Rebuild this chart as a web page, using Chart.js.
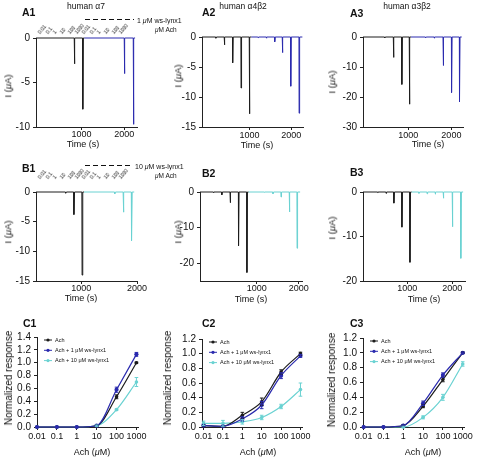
<!DOCTYPE html>
<html>
<head>
<meta charset="utf-8">
<script src="https://cdn.jsdelivr.net/npm/chart.js@4.4.1/dist/chart.umd.min.js"></script>
<style>
  body { margin: 0; background: #fff; }
  #fig { position: relative; width: 477px; height: 458px; overflow: hidden;
         font-family: 'Liberation Sans', Arial, sans-serif; color: #111; }
  #fig canvas { position: absolute; }
  .lbl { position: absolute; white-space: nowrap; line-height: 1; color: #111; will-change: transform; }
  .dash { position: absolute; height: 1px;
          background: repeating-linear-gradient(to right, #111 0 5px, transparent 5px 8px); }
</style>
</head>
<body>
<div id="fig"></div>
<script>
// ---- data: current traces (time s, peak current uA) ----
const a1Span = [-70, 1063, 2255];
const a1CtrlT = [829, 1026];
const a1CtrlI = [-2.9, -8.0];
const a1LynxT = [2002, 2214];
const a1LynxI = [-4.0, -9.7];

const a2Span = [-141, 1040, 2265];
const a2CtrlT = [190, 393, 592, 793, 993];
const a2CtrlI = [-0.2, -1.3, -4.3, -8.5, -12.8];
const a2LynxT = [1200, 1400, 1600, 1784, 1984, 2185];
const a2LynxI = [-0.1, -0.2, -0.8, -2.6, -8.2, -12.7];

const a3Span = [-53, 1062, 2240];
const a3CtrlT = [450, 653, 847, 1023];
const a3CtrlI = [-0.3, -6.8, -15.8, -22.4];
const a3LynxT = [1400, 1600, 1808, 2002, 2187];
const a3LynxI = [-0.2, -0.4, -9.5, -18.5, -21.6];

const b1Span = [190, 1050, 1950];
const b1CtrlT = [720, 867, 1014];
const b1CtrlI = [-0.2, -3.8, -14.0];
const b1LynxT = [1600, 1753, 1900];
const b1LynxI = [-0.3, -3.4, -8.2];

const b2Span = [-360, 800, 2035];
const b2CtrlT = [-40, 160, 360, 560, 760];
const b2CtrlI = [-0.2, -0.8, -3.0, -15.1, -22.6];
const b2LynxT = [1176, 1384, 1576, 1776, 1960];
const b2LynxI = [-0.1, -0.5, -1.4, -5.6, -15.8];

const b3Span = [22, 1098, 2240];
const b3CtrlT = [350, 530, 704, 882, 1060];
const b3CtrlI = [-0.1, -0.3, -2.5, -7.9, -15.8];
const b3LynxT = [1260, 1440, 1620, 1800, 2000, 2187];
const b3LynxI = [-0.3, -0.4, -0.5, -1.4, -7.8, -14.9];

const timeTicks = [1000, 2000];
const yTicksA1 = [0, -5, -10];
const yTicksA2 = [0, -5, -10, -15];
const yTicksA3 = [0, -10, -20, -30];
const yTicksB1 = [0, -5, -10, -15];
const yTicksB2 = [0, -10, -20];
const yTicksB3 = [0, -10, -20];

// ---- data: concentration-response (normalized) ----
const conc = [0.01, 0.1, 1, 10, 100, 1000];
const concLabels = ['0.01', '0.1', '1', '10', '100', '1000'];
const seriesNames = ['Ach', 'Ach + 1 \u03bcM ws-lynx1', 'Ach + 10 \u03bcM ws-lynx1'];

const c1Ach = [0, 0, 0, 0.02, 0.47, 1.0];
const c1AchErr = [0, 0, 0, 0.01, 0.03, 0.01];
const c1Lynx1 = [0, 0, 0, 0.02, 0.58, 1.13];
const c1Lynx1Err = [0, 0, 0, 0.01, 0.04, 0.03];
const c1Lynx10 = [0, 0, 0, 0.02, 0.27, 0.70];
const c1Lynx10Err = [0, 0, 0, 0.01, 0.01, 0.07];

const c2Ach = [0.02, 0.01, 0.16, 0.345, 0.75, 1.0];
const c2AchErr = [0.01, 0.01, 0.04, 0.05, 0.03, 0.02];
const c2Lynx1 = [0.02, 0.01, 0.11, 0.30, 0.70, 0.97];
const c2Lynx1Err = [0.01, 0.01, 0.03, 0.05, 0.04, 0.02];
const c2Lynx10 = [0.05, 0.05, 0.07, 0.13, 0.28, 0.51];
const c2Lynx10Err = [0.03, 0.04, 0.03, 0.03, 0.03, 0.09];

const c3Ach = [0, 0, 0.02, 0.28, 0.64, 1.0];
const c3AchErr = [0, 0, 0.01, 0.02, 0.03, 0.01];
const c3Lynx1 = [0, 0, 0.02, 0.32, 0.70, 1.0];
const c3Lynx1Err = [0, 0, 0.01, 0.03, 0.03, 0.01];
const c3Lynx10 = [0, 0, 0, 0.13, 0.40, 0.85];
const c3Lynx10Err = [0, 0, 0.01, 0.02, 0.04, 0.03];

const yTicksC14 = [0, 0.2, 0.4, 0.6, 0.8, 1.0, 1.2, 1.4];
const yTicksC12 = [0, 0.2, 0.4, 0.6, 0.8, 1.0, 1.2];

// ---- look ----
const BLACK = '#1c1c1c', BLUE = '#2a2aae', CYAN = '#6ad2d2', AX = '#222';
const FONT = "'Liberation Sans', Arial, sans-serif";
const YW = 34, PT = 8, PR = 14, XH = 16;
const fig = document.getElementById('fig');

function addCanvas(box) {
    const c = document.createElement('canvas');
    const l = Math.round(box.l), t = Math.round(box.t);
    const w = Math.round(box.r) - l + YW + PR;
    const h = Math.round(box.b) - t + PT + XH;
    c.width = w; c.height = h;
    c.style.left = (l - YW) + 'px';
    c.style.top = (t - PT) + 'px';
    c.style.width = w + 'px';
    c.style.height = h + 'px';
    fig.appendChild(c);
    return c;
}

function axis(o) {
    return {
        type: o.type || 'linear',
        position: o.pos,
        min: o.min, max: o.max,
        afterBuildTicks: s => { s.ticks = o.ticks.map(v => ({ value: v })); },
        afterFit: s => { if (o.pos === 'left') s.width = YW; else s.height = XH; },
        ticks: {
            autoSkip: false, maxRotation: 0, minRotation: 0,
            padding: o.pad, color: '#111',
            font: { family: FONT, size: o.size, lineHeight: 1 },
            callback: (v, i) => o.labels[i]
        },
        grid: { display: true, drawOnChartArea: false, drawTicks: true, tickLength: 3, color: AX, lineWidth: 1 },
        border: { display: true, color: AX, width: 1 }
    };
}

function baseOptions(scales) {
    return {
        responsive: false, animation: false, events: [], devicePixelRatio: 1,
        layout: { padding: { top: PT, right: PR, left: 0, bottom: 0 } },
        plugins: { legend: { display: false }, tooltip: { enabled: false } },
        scales: scales
    };
}

// one sweep of the recording: baseline with inward current spikes
function sweep(t0, t1, times, peaks) {
    const pts = [{ x: t0, y: 0 }];
    times.forEach((t, i) => {
        pts.push({ x: t - 2, y: 0 }, { x: t + 2, y: peaks[i] }, { x: t + 14, y: 0 });
    });
    pts.push({ x: t1, y: 0 });
    return pts;
}

function traceChart(box, xr, yMin, yTicks, span, ctrlT, ctrlI, lynxT, lynxI, lynxColor, xPad) {
    const c = addCanvas(box);
    new Chart(c, {
        type: 'line',
        data: {
            datasets: [
                { data: sweep(span[0], span[1], ctrlT, ctrlI), borderColor: BLACK },
                { data: sweep(span[1], span[2], lynxT, lynxI), borderColor: lynxColor }
            ].map(d => Object.assign(d, { borderWidth: 1, pointRadius: 0, tension: 0, clip: false }))
        },
        options: baseOptions({
            x: axis({ pos: 'bottom', min: xr[0], max: xr[1], ticks: timeTicks, labels: timeTicks.map(String), size: 9, pad: xPad }),
            y: axis({ pos: 'left', min: yMin, max: 0, ticks: yTicks, labels: yTicks.map(String), size: 10, pad: 3 })
        })
    });
}

const errorBars = {
    id: 'errorBars',
    afterDatasetsDraw(chart) {
        const { ctx, scales: { x, y } } = chart;
        ctx.save();
        chart.data.datasets.forEach(ds => {
            ctx.strokeStyle = ds.borderColor;
            ctx.lineWidth = 1;
            ds.data.forEach((p, i) => {
                const e = ds.errs[i];
                if (!e) return;
                const px = x.getPixelForValue(p.x);
                const y1 = y.getPixelForValue(p.y + e), y2 = y.getPixelForValue(p.y - e);
                ctx.beginPath();
                ctx.moveTo(px, y1); ctx.lineTo(px, y2);
                ctx.moveTo(px - 1.8, y1); ctx.lineTo(px + 1.8, y1);
                ctx.moveTo(px - 1.8, y2); ctx.lineTo(px + 1.8, y2);
                ctx.stroke();
            });
        });
        ctx.restore();
    }
};

const miniLegend = {
    id: 'miniLegend',
    afterDraw(chart) {
        const { ctx, chartArea: a } = chart;
        ctx.save();
        ctx.font = '5.5px ' + FONT;
        ctx.textBaseline = 'middle';
        chart.data.datasets.forEach((ds, i) => {
            const x = a.left + 7, y = a.top + 3 + i * 10.3;
            ctx.strokeStyle = ds.borderColor; ctx.lineWidth = 1;
            ctx.beginPath(); ctx.moveTo(x, y); ctx.lineTo(x + 8, y); ctx.stroke();
            ctx.fillStyle = ds.borderColor;
            ctx.beginPath(); ctx.arc(x + 4, y, 1.6, 0, Math.PI * 2); ctx.fill();
            ctx.fillStyle = '#111';
            ctx.fillText(ds.label, x + 11, y);
        });
        ctx.restore();
    }
};

function doseChart(box, xr, yTicks, yLabels, rows) {
    const c = addCanvas(box);
    const colors = [BLACK, BLUE, CYAN];
    new Chart(c, {
        type: 'line',
        data: {
            datasets: rows.map((r, k) => ({
                label: seriesNames[k],
                data: conc.map((v, i) => ({ x: v, y: r[0][i] })),
                errs: r[1],
                borderColor: colors[k], backgroundColor: colors[k],
                pointBackgroundColor: colors[k], pointBorderWidth: 0,
                pointRadius: k === 1 ? 2.1 : 1.8,
                borderWidth: 1.2, cubicInterpolationMode: 'monotone', clip: false,
                order: k === 2 ? 3 : (k === 0 ? 2 : 1)
            }))
        },
        options: baseOptions({
            x: axis({ type: 'logarithmic', pos: 'bottom', min: xr[0], max: xr[1], ticks: conc, labels: concLabels, size: 9, pad: 2 }),
            y: axis({ pos: 'left', min: 0, max: yTicks[yTicks.length - 1], ticks: yTicks, labels: yLabels, size: 10, pad: 3 })
        }),
        plugins: [errorBars, miniLegend]
    });
}

// ---- panels ----
traceChart({ l: 36, t: 37.5, r: 137, b: 126.7 }, [-70, 2300], -10, yTicksA1, a1Span, a1CtrlT, a1CtrlI, a1LynxT, a1LynxI, BLUE, 0);
traceChart({ l: 202, t: 37, r: 303, b: 126.5 }, [-141, 2280], -15, yTicksA2, a2Span, a2CtrlT, a2CtrlI, a2LynxT, a2LynxI, BLUE, 1);
traceChart({ l: 363, t: 37, r: 463, b: 126.7 }, [-53, 2270], -30, yTicksA3, a3Span, a3CtrlT, a3CtrlI, a3LynxT, a3LynxI, BLUE, 1);

traceChart({ l: 36, t: 192, r: 137, b: 281 }, [190, 2000], -15, yTicksB1, b1Span, b1CtrlT, b1CtrlI, b1LynxT, b1LynxI, CYAN, 0);
traceChart({ l: 200, t: 192, r: 302, b: 281 }, [-360, 2080], -25, yTicksB2, b2Span, b2CtrlT, b2CtrlI, b2LynxT, b2LynxI, CYAN, 0);
traceChart({ l: 363, t: 192, r: 465, b: 281 }, [22, 2282], -20, yTicksB3, b3Span, b3CtrlT, b3CtrlI, b3LynxT, b3LynxI, CYAN, 0);

const fmt1 = v => v.toFixed(1);
doseChart({ l: 37, t: 337, r: 138, b: 426.5 }, [0.01, 1200], yTicksC14, yTicksC14.map(fmt1),
    [[c1Ach, c1AchErr], [c1Lynx1, c1Lynx1Err], [c1Lynx10, c1Lynx10Err]]);
doseChart({ l: 202, t: 339, r: 302, b: 426.5 }, [0.0083, 1200], yTicksC12, yTicksC12.map(fmt1),
    [[c2Ach, c2AchErr], [c2Lynx1, c2Lynx1Err], [c2Lynx10, c2Lynx10Err]]);
doseChart({ l: 363, t: 338, r: 464, b: 426.7 }, [0.0093, 1160], yTicksC12, yTicksC12.map(fmt1),
    [[c3Ach, c3AchErr], [c3Lynx1, c3Lynx1Err], [c3Lynx10, c3Lynx10Err]]);

// ---- text ----
function txt(x, y, html, size, o = {}) {
    const d = document.createElement('div');
    d.className = 'lbl';
    d.innerHTML = html;
    d.style.left = x + 'px';
    d.style.top = y + 'px';
    d.style.fontSize = size + 'px';
    if (o.bold) d.style.fontWeight = 'bold';
    let tf = o.left ? 'translate(0,-50%)' : 'translate(-50%,-50%)';
    if (o.rot) tf += ' rotate(' + o.rot + 'deg)';
    d.style.transform = tf;
    fig.appendChild(d);
}

const mu = '<i>\u03bc</i>';
[['A1', 22, 12], ['A2', 202, 12.3], ['A3', 350, 13.3],
 ['B1', 22, 168.3], ['B2', 202, 173.3], ['B3', 350, 171.7],
 ['C1', 23, 323.3], ['C2', 202, 323.3], ['C3', 350, 323.3]]
    .forEach(p => txt(p[1], p[2], p[0], 10.5, { bold: true, left: true }));

txt(86, 5.5, 'human \u03b17', 8.5);
txt(243, 5.5, 'human \u03b14\u03b22', 8.5);
txt(407, 5.5, 'human \u03b13\u03b22', 8.5);

const iTitle = 'I (' + mu + 'A)';
[[8.3, 86], [178, 76], [331.7, 81.7], [8.3, 231.7], [178, 232], [331.7, 228]]
    .forEach(p => txt(p[0], p[1], iTitle, 9.5, { rot: -90 }));
[[83.3, 144], [257.3, 145], [428.3, 144], [81, 297.5], [251, 299], [424, 298.5]]
    .forEach(p => txt(p[0], p[1], 'Time (s)', 9));
[[9.3, 378], [168.3, 378], [331.7, 380]]
    .forEach(p => txt(p[0], p[1], 'Normalized response', 10, { rot: -90 }));
[[91.7, 451.7], [257.5, 451.7], [422.5, 451.7]]
    .forEach(p => txt(p[0], p[1], 'Ach (' + mu + 'M)', 9));

// application protocol annotations above A1 and B1
function protocol(yBase, yDash, dashEnd, drugText) {
    for (let k = 0; k < 12; k++) {
        const d = document.createElement('div');
        d.className = 'lbl';
        d.textContent = concLabels[k % 6];
        d.style.fontSize = '5px';
        d.style.left = (41.2 + k * 7.36) + 'px';
        d.style.top = (yBase - 5) + 'px';
        d.style.transformOrigin = '0 100%';
        d.style.transform = 'rotate(-50deg)';
        fig.appendChild(d);
    }
    const dash = document.createElement('div');
    dash.className = 'dash';
    dash.style.left = '85px';
    dash.style.top = yDash + 'px';
    dash.style.width = (dashEnd - 85) + 'px';
    fig.appendChild(dash);
    txt(dashEnd + 2.5, yDash + 0.5, drugText, 7, { left: true });
    txt(155, yDash + 11, mu + 'M Ach', 6.5, { left: true });
}
protocol(34.5, 19, 134, '1 ' + mu + 'M ws-lynx1');
protocol(179.5, 165, 132, '10 ' + mu + 'M ws-lynx1');
</script>
</body>
</html>
